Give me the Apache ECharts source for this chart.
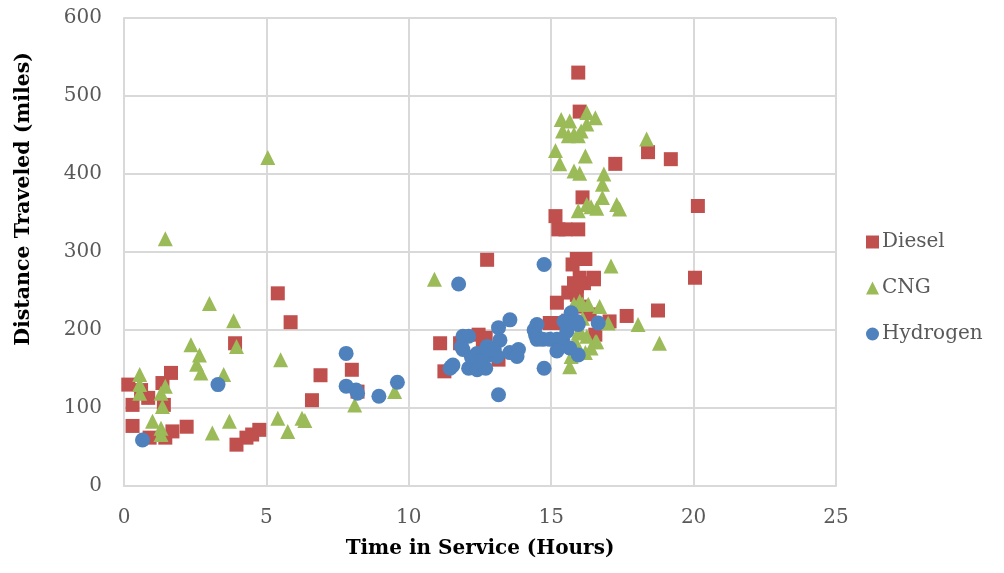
<!DOCTYPE html>
<html><head><meta charset="utf-8">
<script src="https://cdn.jsdelivr.net/npm/echarts@6/dist/echarts.min.js"></script>
<style>html,body{margin:0;padding:0;background:#fff}#c{width:1004px;height:573px}</style>
</head><body><div id="c"></div>
<script>
const seriesNames = ["Diesel", "CNG", "Hydrogen"];
const xTicks = [0, 5, 10, 15, 20, 25];
const yTicks = [0, 100, 200, 300, 400, 500, 600];
const diesel = [[0.15,130],[0.3,104],[0.3,77],[0.6,123],[0.85,113],[0.9,62],[1.35,132],[1.4,104],[1.45,62],[1.65,145],[1.7,70],[2.2,76],[3.9,183],[3.95,53],[4.3,62],[4.5,66],[4.75,72],[5.4,247],[5.85,210],[6.6,110],[6.9,142],[8.0,149],[8.2,121],[11.1,183],[11.25,147],[11.8,183],[12.45,194],[12.7,190],[12.75,290],[13.15,162],[12.6,178],
[14.95,209],[15.2,209],[15.2,235],[15.6,248],[15.9,245],[15.9,256],[16.0,267],[16.5,267],[15.8,260],[16.15,260],[16.5,265],[15.75,284],[15.9,291],[16.2,291],[15.25,329],[15.5,329],[15.95,329],[15.15,346],[16.1,370],[16.0,480],[15.95,530],[16.35,220],[16.55,194],[17.05,211],[17.65,218],[18.75,225],[20.05,267],[17.25,413],[18.4,428],[19.2,419],[20.15,359],[16.1,230],[15.6,212]];
const cng = [[0.55,143],[0.55,130],[0.55,119],[1.45,128],[1.3,119],[1.35,102],[1.0,83],[1.3,74],[1.3,66],[1.45,317],[3.0,234],[2.35,181],[2.65,168],[2.55,156],[2.7,145],[3.5,143],[3.85,212],[3.95,179],[3.1,68],[3.7,83],[5.05,421],[5.5,162],[5.4,87],[5.75,70],[6.25,87],[6.35,84],[8.1,104],[9.5,121],[10.9,265],
[15.35,470],[15.65,468],[16.25,479],[16.55,472],[15.4,455],[15.8,451],[16.05,455],[15.95,449],[15.6,449],[16.25,464],[18.35,445],[15.15,430],[15.3,413],[16.2,423],[15.8,404],[16.0,401],[16.85,400],[16.8,387],[16.8,370],[16.25,361],[16.4,358],[16.6,356],[15.95,353],[17.3,361],[17.4,355],[17.1,282],[18.05,207],[18.8,183],[16.7,230],[15.8,233],[16.1,233],[16.3,233],[17.0,209],[15.95,196],[16.25,192],[16.6,185],[15.7,166],[15.65,153],[16.0,237],[16.55,185],[16.4,177],[16.2,171],[15.7,210],[16.0,200],[15.85,185],[16.1,215]];
const hydrogen = [[0.65,59],[3.3,130],[7.8,170],[7.8,128],[8.15,123],[8.2,119],[8.95,115],[9.6,133],[11.75,259],[11.5,153],[11.45,151],[11.55,155],[11.9,192],[12.1,192],[11.85,179],[11.9,175],[12.4,170],[12.75,179],[13.2,187],[12.8,168],[13.1,166],[13.55,171],[13.85,175],[13.8,166],[12.1,151],[12.4,149],[12.7,151],[13.15,117],[13.55,213],[13.15,203],[14.75,284],[14.4,200],[14.5,207],[14.45,194],[14.5,188],[14.7,188],[14.95,188],[15.2,188],[15.4,188],[15.7,222],[15.45,211],[15.95,207],[15.9,211],[16.65,209],[15.2,173],[15.65,177],[15.95,168],[14.75,151],[15.55,198],[12.2,165],[12.5,160],[13.0,175]];
const yTitle = 'Distance Traveled (miles)';
const xTitle = 'Time in Service (Hours)';

const font = "DejaVu Serif";
const chart = echarts.init(document.getElementById('c'), null, {renderer: 'canvas'});
chart.setOption({
  backgroundColor: '#ffffff',
  animation: false,
  grid: {left: 124, right: 168, top: 18, bottom: 87, containLabel: false},
  legend: {
    orient: 'vertical', left: 861, top: 227, itemGap: 26, itemWidth: 13, itemHeight: 13,
    textStyle: {fontFamily: font, fontSize: 20, color: '#595959', padding: [0,0,0,-2]},
    data: [{name: seriesNames[0], icon: 'rect'}, {name: seriesNames[1], icon: 'triangle'}, {name: seriesNames[2], icon: 'circle'}]
  },
  graphic: [{
    type: 'text', left: 13, top: 52, rotation: Math.PI / 2,
    style: {text: yTitle, fontFamily: font, fontWeight: 'bold', fontSize: 20.5, fill: '#000'}
  }],
  xAxis: {
    type: 'value', min: xTicks[0], max: xTicks[xTicks.length-1], interval: 5,
    name: xTitle, nameLocation: 'middle', nameGap: 53,
    nameTextStyle: {fontFamily: font, fontWeight: 'bold', fontSize: 20, color: '#000'},
    axisLine: {show: true, lineStyle: {color: '#d9d9d9', width: 2}},
    axisTick: {show: false},
    axisLabel: {fontFamily: font, fontSize: 20, color: '#595959', margin: 22},
    splitLine: {show: true, lineStyle: {color: '#d9d9d9', width: 2}}
  },
  yAxis: {
    type: 'value', min: yTicks[0], max: yTicks[yTicks.length-1], interval: 100,
    axisLine: {show: true, lineStyle: {color: '#d9d9d9', width: 2}},
    axisTick: {show: false},
    axisLabel: {fontFamily: font, fontSize: 20, color: '#595959', margin: 22},
    splitLine: {show: true, lineStyle: {color: '#d9d9d9', width: 2}}
  },
  series: [
    {name: seriesNames[0], type: 'scatter', symbol: 'rect', symbolSize: 14, data: diesel, itemStyle: {color: '#C0504D', opacity: 1}},
    {name: seriesNames[1], type: 'scatter', symbol: 'triangle', symbolSize: 15, data: cng, itemStyle: {color: '#9BBB59', opacity: 1}},
    {name: seriesNames[2], type: 'scatter', symbol: 'circle', symbolSize: 15, data: hydrogen, itemStyle: {color: '#4F81BD', opacity: 1}}
  ]
});
</script></body></html>
